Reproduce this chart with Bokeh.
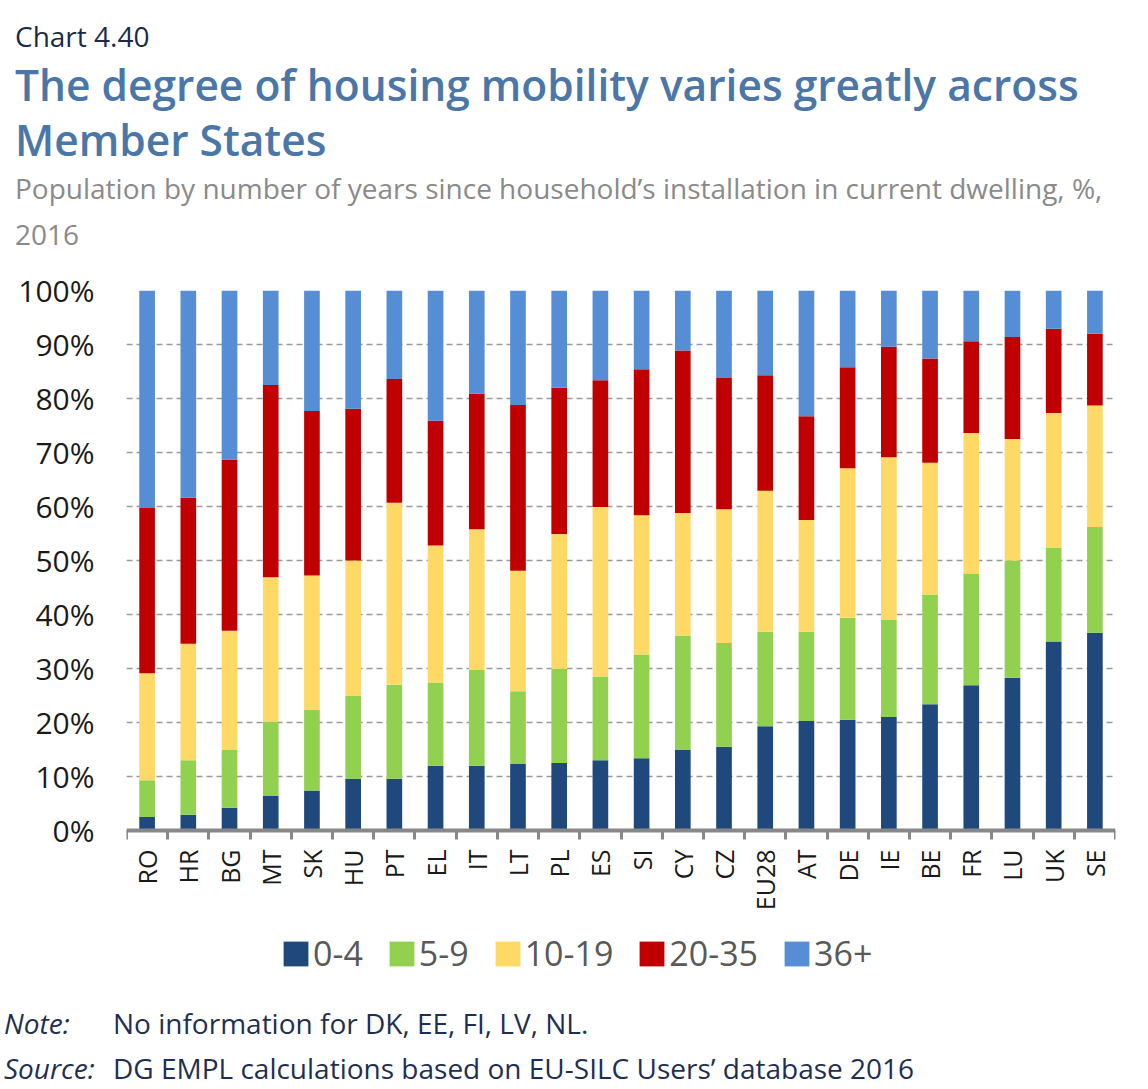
import math
from bokeh.plotting import figure
from bokeh.layouts import column
from bokeh.models import (ColumnDataSource, FixedTicker, PrintfTickFormatter, Div,
                          Legend, LegendItem, Range1d)
from bokeh.embed import file_html
from bokeh.resources import INLINE

countries = ["RO", "HR", "BG", "MT", "SK", "HU", "PT", "EL", "IT", "LT", "PL", "ES",
             "SI", "CY", "CZ", "EU28", "AT", "DE", "IE", "BE", "FR", "LU", "UK", "SE"]
years_0_4 = [2.5, 2.9, 4.2, 6.4, 7.4, 9.6, 9.6, 12.0, 12.0, 12.3, 12.5, 13.0,
             13.4, 14.9, 15.5, 19.3, 20.3, 20.5, 21.0, 23.4, 26.9, 28.3, 35.0, 36.6]
years_5_9 = [6.8, 10.1, 10.7, 13.8, 15.0, 15.3, 17.4, 15.4, 17.7, 13.5, 17.4, 15.5,
             19.2, 21.2, 19.2, 17.5, 16.5, 18.9, 18.0, 20.3, 20.6, 21.7, 17.3, 19.6]
years_10_19 = [19.8, 21.6, 22.1, 26.7, 24.8, 25.1, 33.7, 25.4, 26.1, 22.3, 25.0, 31.4,
               25.8, 22.7, 24.8, 26.1, 20.7, 27.7, 30.1, 24.4, 26.1, 22.5, 25.0, 22.5]
years_20_35 = [30.6, 27.0, 31.7, 35.6, 30.5, 28.1, 22.9, 23.1, 25.1, 30.7, 27.1, 23.5,
               27.0, 30.1, 24.3, 21.4, 19.2, 18.7, 20.5, 19.3, 17.0, 18.9, 15.6, 13.3]
years_36_plus = [40.3, 38.4, 31.3, 17.5, 22.3, 21.9, 16.4, 24.1, 19.1, 21.2, 18.0, 16.6,
                 14.6, 11.1, 16.2, 15.7, 23.3, 14.2, 10.4, 12.6, 9.4, 8.6, 7.1, 8.0]
series_labels = ["0-4", "5-9", "10-19", "20-35", "36+"]
series_colors = ["#1F497D", "#92D050", "#FFD966", "#C00000", "#558ED5"]
y_ticks = [0, 10, 20, 30, 40, 50, 60, 70, 80, 90, 100]

FONT = "Open Sans"
W = 1148
n = len(countries)
xpos = [i + 0.5 for i in range(n)]


def line_html(txt, left, baseline, size, color, weight="normal", style="normal"):
    top = baseline - 1.069 * size
    lh = 1.362 * size
    return (f'<div style="position:absolute; left:{left}px; top:{top:.1f}px; '
            f'line-height:{lh:.1f}px; font-family:\'{FONT}\'; font-size:{size}px; color:{color}; '
            f'font-weight:{weight}; font-style:{style}; white-space:nowrap; margin:0; padding:0;">'
            f'{txt}</div>')


def text_block(lines, height):
    inner = "".join(lines)
    html = (f'<div style="position:relative; width:{W}px; height:{height}px; margin:0; padding:0;">'
            f'{inner}</div>')
    return Div(text=html, width=W, height=height, margin=0,
               styles={"margin": "0", "padding": "0"})


# ---------- header ----------
header = text_block([
    line_html("Chart 4.40", 15, 47, 28, "#1b2a4a"),
    line_html("The degree of housing mobility varies greatly across", 15, 101, 42.5, "#4A76A8", "600"),
    line_html("Member States", 15, 156, 42.5, "#4A76A8", "600"),
    line_html("Population by number of years since household\u2019s installation in current dwelling, %,",
              15, 199, 28, "#8a8a8a"),
    line_html("2016", 15, 245, 28, "#8a8a8a"),
], 260)

# ---------- main chart ----------
source = ColumnDataSource(dict(
    x=xpos, s0=years_0_4, s1=years_5_9, s2=years_10_19, s3=years_20_35, s4=years_36_plus))

# frame: 710 px tall; 0..100 occupies the top 540 px, the rest holds labels and legend
below_units = 170 / 5.4
p = figure(width=W, height=740, output_backend="svg", toolbar_location=None,
           x_range=Range1d(0, n), y_range=Range1d(-below_units, 100),
           min_border_left=126, min_border_right=33, min_border_top=30, min_border_bottom=0)
p.outline_line_color = None
p.background_fill_color = "white"
p.border_fill_color = "white"

renderers = p.vbar_stack(["s0", "s1", "s2", "s3", "s4"], x="x", width=0.38,
                         color=series_colors, line_color=None, source=source)

p.xgrid.grid_line_color = None
p.ygrid.grid_line_color = "#9a9a9a"
p.ygrid.grid_line_dash = "6 4"
p.ygrid.grid_line_width = 1.5
p.ygrid.ticker = FixedTicker(ticks=y_ticks)

p.yaxis.ticker = FixedTicker(ticks=y_ticks)
p.yaxis.formatter = PrintfTickFormatter(format="%d%%")
p.yaxis.axis_line_color = None
p.yaxis.major_tick_line_color = None
p.yaxis.minor_tick_line_color = None
p.yaxis.major_tick_out = 0
p.yaxis.major_tick_in = 0
p.yaxis.major_label_standoff = 32
p.yaxis.major_label_text_font = FONT
p.yaxis.major_label_text_font_size = "30px"
p.yaxis.major_label_text_color = "#1a1a1a"

p.xaxis.fixed_location = 0
p.xaxis.ticker = FixedTicker(ticks=xpos, minor_ticks=list(range(n + 1)))
p.xaxis.major_label_overrides = {x: c for x, c in zip(xpos, countries)}
p.xaxis.major_label_orientation = math.pi / 2
p.xaxis.major_tick_line_color = None
p.xaxis.major_tick_out = 0
p.xaxis.major_tick_in = 0
p.xaxis.minor_tick_line_color = "#888888"
p.xaxis.minor_tick_line_width = 3
p.xaxis.minor_tick_out = 9
p.xaxis.minor_tick_in = 0
p.xaxis.axis_line_color = "#888888"
p.xaxis.axis_line_width = 4
p.xaxis.major_label_standoff = 10
p.xaxis.major_label_text_font = FONT
p.xaxis.major_label_text_font_size = "25px"
p.xaxis.major_label_text_color = "#1a1a1a"

legend = Legend(items=[LegendItem(label=l, renderers=[r]) for l, r in zip(series_labels, renderers)],
                orientation="horizontal", location=(154, 24),
                glyph_width=31, glyph_height=31, label_standoff=2, spacing=23,
                padding=0, margin=0, border_line_color=None, background_fill_alpha=0,
                label_text_font=FONT, label_text_font_size="34px", label_text_color="#595959")
p.add_layout(legend)

# ---------- footer ----------
footer = text_block([
    line_html("Note:", 4, 34, 28, "#1f2f52", style="italic"),
    line_html("No information for DK, EE, FI, LV, NL.", 113, 34, 28, "#1f2f52"),
    line_html("Source:", 4, 79, 28, "#1f2f52", style="italic"),
    line_html("DG EMPL calculations based on EU-SILC Users\u2019 database 2016", 113, 79, 28, "#1f2f52"),
], 89)

layout = column(header, p, footer, spacing=0)

with open("out.html", "w") as f:
    f.write(file_html(layout, INLINE))
